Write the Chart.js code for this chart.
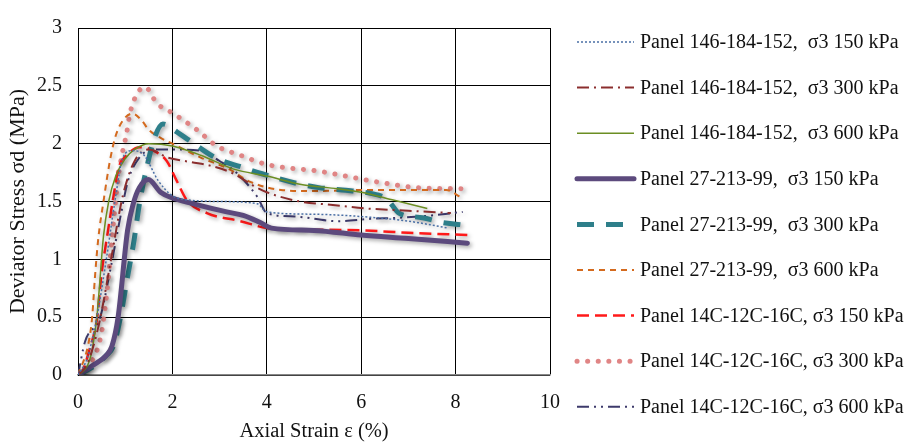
<!DOCTYPE html>
<html>
<head>
<meta charset="utf-8">
<script src="https://cdn.jsdelivr.net/npm/chart.js@4.4.1/dist/chart.umd.min.js"></script>
<style>
  html, body { margin: 0; padding: 0; background: #fff; }
  #wrap { width: 915px; height: 443px; position: relative; }
</style>
</head>
<body>
<div id="wrap"><canvas id="stressChart"></canvas></div>
<script>
// ---------- Data (axial strain %, deviator stress MPa) ----------
const labels = [
  "Panel 146-184-152,  σ3 150 kPa",
  "Panel 146-184-152,  σ3 300 kPa",
  "Panel 146-184-152,  σ3 600 kPa",
  "Panel 27-213-99,  σ3 150 kPa",
  "Panel 27-213-99,  σ3 300 kPa",
  "Panel 27-213-99,  σ3 600 kPa",
  "Panel 14C-12C-16C, σ3 150 kPa",
  "Panel 14C-12C-16C, σ3 300 kPa",
  "Panel 14C-12C-16C, σ3 600 kPa"
];

const xTicks = [0, 2, 4, 6, 8, 10];
const yTicks = [0, 0.5, 1, 1.5, 2, 2.5, 3];

const a150x = [0, 0.2, 0.4, 0.6, 0.8, 0.95, 1.15, 1.4, 1.7, 2.0, 2.4, 3.0, 3.8, 4.0, 5.0, 6.0, 7.0, 7.85];
const a150y = [0, 0.15, 0.5, 1.0, 1.55, 1.88, 1.94, 1.9, 1.68, 1.55, 1.51, 1.5, 1.48, 1.41, 1.39, 1.37, 1.33, 1.27];

const a300x = [0, 0.2, 0.45, 0.7, 0.95, 1.2, 1.5, 1.9, 2.4, 2.8, 3.3, 3.7, 4.0, 4.7, 5.4, 6.1, 7.0, 7.9];
const a300y = [0, 0.1, 0.45, 1.0, 1.55, 1.85, 1.95, 1.88, 1.84, 1.81, 1.74, 1.64, 1.58, 1.5, 1.47, 1.44, 1.42, 1.4];

const a600x = [0, 0.2, 0.3, 0.4, 0.54, 0.65, 0.8, 1.0, 1.2, 1.5, 2.0, 2.6, 3.3, 4.0, 4.7, 5.5, 6.0, 6.7, 7.4];
const a600y = [0, 0.08, 0.22, 0.5, 1.2, 1.5, 1.72, 1.87, 1.95, 2.0, 1.98, 1.9, 1.78, 1.72, 1.65, 1.61, 1.58, 1.51, 1.44];

const b150x = [0, 0.3, 0.6, 0.72, 0.85, 1.05, 1.17, 1.3, 1.49, 1.75, 2.0, 2.45, 3.15, 3.5, 3.85, 4.1, 5.0, 6.0, 7.0, 8.25];
const b150y = [0, 0.08, 0.17, 0.25, 0.5, 1.25, 1.48, 1.62, 1.69, 1.58, 1.53, 1.48, 1.41, 1.38, 1.32, 1.27, 1.25, 1.21, 1.18, 1.14];

const b300x = [0, 0.35, 0.6, 0.75, 0.9, 1.05, 1.17, 1.31, 1.46, 1.62, 1.8, 2.1, 2.35, 2.95, 3.45, 3.9, 4.6, 5.1, 5.6, 6.2, 6.55, 6.8, 7.3, 7.7, 8.1];
const b300y = [0, 0.08, 0.17, 0.25, 0.5, 0.85, 1.12, 1.5, 1.8, 2.05, 2.17, 2.1, 2.03, 1.87, 1.8, 1.74, 1.66, 1.62, 1.6, 1.57, 1.52, 1.4, 1.36, 1.32, 1.3];

const b600x = [0, 0.22, 0.3, 0.36, 0.43, 0.54, 0.68, 0.8, 0.95, 1.15, 1.35, 1.5, 1.75, 2.0, 2.6, 3.2, 3.65, 4.3, 5.0, 6.0, 7.0, 7.8, 8.1];
const b600y = [0, 0.27, 0.5, 0.85, 1.18, 1.5, 1.86, 2.07, 2.2, 2.26, 2.2, 2.12, 2.05, 2.0, 1.88, 1.78, 1.67, 1.6, 1.59, 1.6, 1.6, 1.6, 1.54];

const c150x = [0, 0.1, 0.25, 0.4, 0.5, 0.61, 0.75, 0.86, 1.03, 1.31, 1.6, 1.88, 2.09, 2.31, 2.73, 3.44, 4.0, 4.5, 6.0, 7.0, 8.25];
const c150y = [0, 0.04, 0.23, 0.48, 0.88, 1.18, 1.54, 1.79, 1.9, 1.97, 1.94, 1.85, 1.68, 1.51, 1.4, 1.33, 1.27, 1.26, 1.25, 1.23, 1.21];

const c300x = [0, 0.19, 0.4, 0.5, 0.57, 0.64, 0.72, 0.85, 0.93, 1.03, 1.1, 1.25, 1.42, 1.67, 2.02, 2.52, 2.94, 3.44, 4.0, 5.13, 6.47, 7.19, 8.15];
const c300y = [0, 0.07, 0.21, 0.37, 0.57, 0.82, 1.18, 1.7, 1.9, 2.09, 2.26, 2.43, 2.49, 2.35, 2.26, 2.12, 1.98, 1.9, 1.82, 1.76, 1.66, 1.62, 1.61];

const c600x = [0, 0.15, 0.47, 0.68, 0.89, 1.06, 1.3, 1.6, 1.9, 2.6, 3.0, 3.3, 3.5, 3.8, 4.0, 4.6, 5.5, 6.2, 6.8, 7.5, 8.15];
const c600y = [0, 0.29, 0.5, 0.9, 1.35, 1.68, 1.88, 1.95, 1.95, 1.94, 1.85, 1.77, 1.69, 1.54, 1.4, 1.37, 1.33, 1.35, 1.36, 1.38, 1.41];

const seriesX = [a150x, a300x, a600x, b150x, b300x, b600x, c150x, c300x, c600x];
const seriesY = [a150y, a300y, a600y, b150y, b300y, b600y, c150y, c300y, c600y];

// line styles per series
const colors = ["#4a6fa5", "#8b2e2e", "#6b8e23", "#5c4a7d", "#2e7f8a", "#d46a1e", "#ff1a1a", "#e08585", "#3d3a6b"];
const widths = [1.5, 2, 1.5, 5, 5, 2, 2.5, 5, 2];
const dashes = [[2, 2], [12, 5, 2, 5], [], [], [17, 12], [6, 5], [12, 6], [0.1, 10.5], [12, 5, 2, 5, 2, 5]];
const caps = ["butt", "butt", "butt", "round", "butt", "butt", "butt", "round", "butt"];

const FONT = "'Liberation Serif', 'Times New Roman', serif";

const datasets = labels.map((label, i) => ({
  label,
  data: seriesX[i].map((x, j) => ({ x, y: seriesY[i][j] })),
  borderColor: colors[i],
  backgroundColor: colors[i],
  borderWidth: widths[i],
  borderDash: dashes[i],
  borderCapStyle: caps[i],
  borderJoinStyle: "round",
  pointRadius: 0,
  cubicInterpolationMode: "monotone",
  fill: false,
}));

// soft drop shadow under the curves
const shadowPlugin = {
  id: "shadow",
  beforeDatasetsDraw(chart) {
    const ctx = chart.ctx;
    ctx.save();
    ctx.shadowColor = "rgba(0,0,0,0.35)";
    ctx.shadowBlur = 4;
    ctx.shadowOffsetX = 2;
    ctx.shadowOffsetY = 2;
  },
  afterDatasetsDraw(chart) {
    chart.ctx.restore();
  },
};

// legend on the right, drawn by hand to match spacing
const legendPlugin = {
  id: "sideLegend",
  afterDraw(chart) {
    const ctx = chart.ctx;
    ctx.save();
    chart.data.datasets.forEach((ds, i) => {
      const y = 42 + i * 45.6;
      ctx.beginPath();
      ctx.strokeStyle = ds.borderColor;
      ctx.lineWidth = ds.borderWidth;
      ctx.setLineDash(ds.borderDash);
      ctx.lineCap = ds.borderCapStyle;
      ctx.moveTo(577, y);
      ctx.lineTo(634, y);
      ctx.stroke();
      ctx.setLineDash([]);
      ctx.fillStyle = "#111";
      ctx.font = "20px " + FONT;
      ctx.textBaseline = "middle";
      ctx.textAlign = "left";
      ctx.fillText(ds.label, 640, y + 1);
    });
    ctx.restore();
  },
};

new Chart(document.getElementById("stressChart"), {
  type: "line",
  data: { datasets },
  options: {
    responsive: true,
    maintainAspectRatio: false,
    animation: false,
    layout: { padding: { left: 0, top: 14, right: 365, bottom: 0 } },
    plugins: {
      legend: { display: false },
      tooltip: { enabled: false },
    },
    scales: {
      x: {
        type: "linear",
        min: 0,
        max: 10,
        afterBuildTicks: (s) => { s.ticks = xTicks.map((v) => ({ value: v })); },
        afterFit: (s) => { s.height = 68; },
        ticks: { color: "#111", padding: 16, font: { family: FONT, size: 20 }, callback: (v) => String(v) },
        grid: { color: "#000", lineWidth: 1, drawTicks: false },
        border: { color: "#888", width: 1.5 },
        title: {
          display: true,
          text: "Axial Strain ε (%)",
          color: "#111",
          font: { family: FONT, size: 20.5, lineHeight: 1 },
          padding: { top: 0, bottom: 1 },
        },
      },
      y: {
        min: 0,
        max: 3,
        afterBuildTicks: (s) => { s.ticks = yTicks.map((v) => ({ value: v })); },
        afterFit: (s) => { s.width = 78; },
        ticks: { color: "#111", padding: 16, font: { family: FONT, size: 20 }, callback: (v) => String(v) },
        grid: { color: "#000", lineWidth: 1, drawTicks: false },
        border: { color: "#000", width: 1 },
        title: {
          display: true,
          text: "Deviator Stress σd (MPa)",
          color: "#111",
          font: { family: FONT, size: 22, lineHeight: 1 },
          padding: { top: 7, bottom: 0 },
        },
      },
    },
  },
  plugins: [shadowPlugin, legendPlugin],
});
</script>
</body>
</html>
